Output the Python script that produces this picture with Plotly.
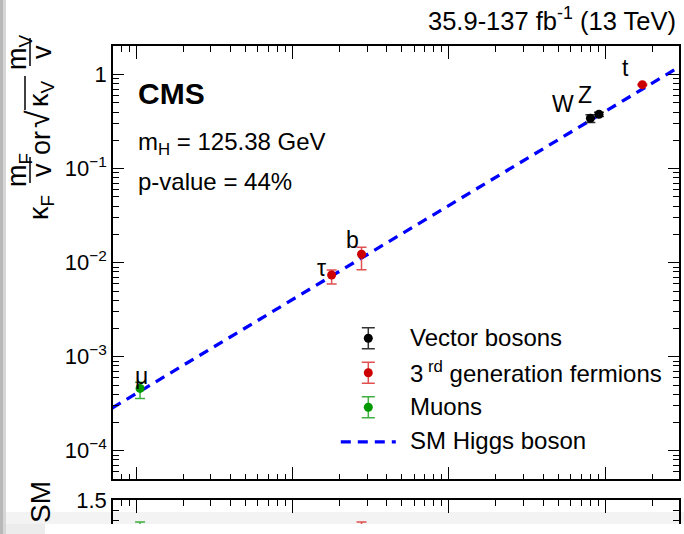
import plotly.graph_objects as go

# ---------------- data ----------------
vec_names = ["W", "Z"]
vec_mass = [80.38, 91.19]
vec_val = [0.344, 0.379]
vec_err_up = [0.030, 0.020]
vec_err_dn = [0.035, 0.020]

f3_names = ["τ", "b", "t"]
f3_mass = [1.777, 2.76, 172.76]
f3_val = [7.4e-3, 1.23e-2, 0.783]
f3_err_up = [0.94e-3, 2.3e-3, 0.015]
f3_err_dn = [1.47e-3, 3.9e-3, 0.015]

mu_names = ["μ"]
mu_mass = [0.1057]
mu_val = [4.6e-4]
mu_err_up = [0.74e-4]
mu_err_dn = [1.0e-4]

sm_mass = [0.07, 310.0]
sm_val = [2.84e-4, 1.26]

# ratio to SM (lower panel, mostly cut off)
vec_ratio = [1.05, 1.02]
vec_ratio_err = [0.10, 0.05]
f3_ratio = [1.03, 1.10, 1.11]
f3_ratio_err = [0.13, 0.18, 0.05]
mu_ratio = [1.07]
mu_ratio_err = [0.21]

y_tickvals = [1e-4, 1e-3, 1e-2, 1e-1, 1]
y_ticktext = ["10<sup>−4</sup>", "10<sup>−3</sup>", "10<sup>−2</sup>", "10<sup>−1</sup>", "1"]
x_major = [0.1, 1, 10, 100]

legend_labels = ["Vector bosons", "3<sup> rd</sup> generation fermions", "Muons", "SM Higgs boson"]

# ---------------- style ----------------
W, H = 684, 534
L, R, T, B = 113, 5, 46, 0
PW, PH = W - L - R, H - T - B
FONT = "Liberation Sans, Arial, sans-serif"
C_BLACK, C_RED, C_GREEN, C_BLUE = "#000000", "#cc0000", "#009a00", "#0000ff"
E_BLACK, E_RED, E_GREEN = "#333333", "#e05050", "#40b040"


def px(x):
    return (x - L) / PW


def py(y):
    return (H - B - y) / PH


x_minor = [k * 10.0 ** n for n in range(-2, 3) for k in range(2, 10)]
y_minor = [k * 10.0 ** n for n in range(-5, 1) for k in range(2, 10)]

fig = go.Figure()

# SM line
fig.add_trace(go.Scatter(x=sm_mass, y=sm_val, mode="lines",
                         line=dict(color=C_BLUE, width=3.3, dash="10px,7px"),
                         showlegend=False, hoverinfo="skip"))


def pts(x, y, up, dn, mc, ec, xa="x", ya="y"):
    return go.Scatter(x=x, y=y, mode="markers", xaxis=xa, yaxis=ya,
                      marker=dict(color=mc, size=9, line=dict(width=0)),
                      error_y=dict(type="data", symmetric=False, array=up, arrayminus=dn,
                                   color=ec, thickness=1.5, width=5),
                      showlegend=False, cliponaxis=True)


fig.add_trace(pts(vec_mass, vec_val, vec_err_up, vec_err_dn, C_BLACK, E_BLACK))
fig.add_trace(pts(f3_mass, f3_val, f3_err_up, f3_err_dn, C_RED, E_RED))
fig.add_trace(pts(mu_mass, mu_val, mu_err_up, mu_err_dn, C_GREEN, E_GREEN))

# ratio panel
fig.add_trace(pts(vec_mass, vec_ratio, vec_ratio_err, vec_ratio_err, C_BLACK, E_BLACK, "x2", "y2"))
fig.add_trace(pts(f3_mass, f3_ratio, f3_ratio_err, f3_ratio_err, C_RED, E_RED, "x2", "y2"))
fig.add_trace(pts(mu_mass, mu_ratio, mu_ratio_err, mu_ratio_err, C_GREEN, E_GREEN, "x2", "y2"))

# legend glyphs (drawn on a pixel-like helper axis that covers the whole plot area)
leg_x, leg_y0, leg_dy = 368.3, 338.3, 34.5
leg_colors = [(C_BLACK, E_BLACK), (C_RED, E_RED), (C_GREEN, E_GREEN)]
for i, (mc, ec) in enumerate(leg_colors):
    fig.add_trace(go.Scatter(x=[leg_x], y=[leg_y0 + i * leg_dy], mode="markers", xaxis="x3", yaxis="y3",
                             marker=dict(color=mc, size=9),
                             error_y=dict(type="constant", value=10.5, color=ec, thickness=1.5, width=6.5),
                             showlegend=False, hoverinfo="skip"))
fig.add_trace(go.Scatter(x=[leg_x - 27.5, leg_x + 27.5], y=[leg_y0 + 3 * leg_dy] * 2, mode="lines",
                         xaxis="x3", yaxis="y3", line=dict(color=C_BLUE, width=3.3, dash="10px,7px"),
                         showlegend=False, hoverinfo="skip"))

axis_common = dict(showline=True, linecolor="black", linewidth=1.5, ticks="inside",
                   tickcolor="black", tickwidth=1, showgrid=False, zeroline=False)

fig.update_layout(
    width=W, height=H, margin=dict(l=L, r=R, t=T, b=B, pad=0),
    paper_bgcolor="white", plot_bgcolor="rgba(0,0,0,0)",
    font=dict(family=FONT, color="black", size=22),
    showlegend=False,
    xaxis=dict(type="log", range=[-1.149, 2.472], domain=[0, 1], anchor="y",
               tickvals=x_major, ticklen=13, showticklabels=False, mirror="ticks",
               minor=dict(tickvals=x_minor, ticklen=6, ticks="inside", tickcolor="black", tickwidth=1),
               **axis_common),
    yaxis=dict(type="log", range=[-4.304, 0.305], domain=[py(479.3), 1], anchor="x",
               tickvals=y_tickvals, ticktext=y_ticktext, ticklen=11, mirror="ticks",
               tickfont=dict(size=22),
               minor=dict(tickvals=y_minor, ticklen=6, ticks="inside", tickcolor="black", tickwidth=1),
               **axis_common),
    xaxis2=dict(type="log", range=[-1.149, 2.472], domain=[0, 1], anchor="y2", side="top",
                tickvals=x_major, ticklen=13, showticklabels=False,
                minor=dict(tickvals=x_minor, ticklen=6, ticks="inside", tickcolor="black", tickwidth=1),
                **axis_common),
    yaxis2=dict(range=[1.16, 1.5], domain=[0, py(500)], anchor="x2",
                tickvals=[1.5], ticktext=["1.5"], ticklen=11, mirror="ticks",
                minor=dict(tickvals=[1.2, 1.3, 1.4], ticklen=6, ticks="inside", tickcolor="black", tickwidth=1),
                **axis_common),
    xaxis3=dict(range=[L, W - R], domain=[0, 1], anchor="y3", visible=False, fixedrange=True),
    yaxis3=dict(range=[H - B, T], domain=[0, 1], anchor="x3", visible=False, fixedrange=True),
)

ann = []


def text(x, y, s, size=24, xa="center", ya="middle", angle=0, bold=False):
    if bold:
        s = "<b>" + s + "</b>"
    ann.append(dict(x=px(x), y=py(y), xref="paper", yref="paper", text=s, showarrow=False,
                    xanchor=xa, yanchor=ya, textangle=angle,
                    font=dict(family=FONT, size=size, color="black")))


# header & labels
text(678, 19, "35.9-137 fb<sup>-1</sup> (13 TeV)", size=25.5, xa="right")
text(136, 93, "CMS", size=30, xa="left", bold=True)
text(136, 143, "m<sub>H</sub> = 125.38 GeV", size=24, xa="left")
text(136, 181, "p-value = 44%", size=24, xa="left")

# particle labels
for s, (x, y) in zip(["μ", "τ", "b", "W", "Z", "t"],
                     [(141, 376), (321, 268), (352, 240), (563, 104), (585, 95), (625, 68)]):
    text(x, y, s, size=23)

# legend texts
for i, s in enumerate(legend_labels):
    text(408, leg_y0 - 1 + i * leg_dy, s, size=24, xa="left")

# y-axis title (rotated pieces)
TS = 27
text(41, 208, "κ<sub>F</sub>", size=TS, angle=-90)
text(19, 170, "m<sub>F</sub>", size=TS, angle=-90)
text(42, 170, "v", size=TS, angle=-90)
text(41, 143, "or", size=TS, angle=-90)
text(38, 119, "√", size=32, angle=-90)
text(41, 94, "κ<sub>V</sub>", size=TS, angle=-90)
text(19, 52, "m<sub>V</sub>", size=TS, angle=-90)
text(42, 52, "v", size=TS, angle=-90)
text(40, 502, "SM", size=28, angle=-90)

shapes = [
    dict(type="line", xref="paper", yref="paper", x0=px(30), x1=px(30), y0=py(157), y1=py(183),
         line=dict(color="black", width=1.5)),
    dict(type="line", xref="paper", yref="paper", x0=px(30), x1=px(30), y0=py(38), y1=py(66),
         line=dict(color="black", width=1.5)),
    dict(type="line", xref="paper", yref="paper", x0=px(25), x1=px(25), y0=py(76), y1=py(110),
         line=dict(color="black", width=1.5)),
    # screenshot artefacts: left grey strip, bottom band
    dict(type="rect", xref="paper", yref="paper", x0=px(0), x1=px(3), y0=py(534), y1=py(0),
         fillcolor="#b8b8b8", line=dict(width=0), layer="above"),
    dict(type="rect", xref="paper", yref="paper", x0=px(3), x1=px(6), y0=py(534), y1=py(0),
         fillcolor="#d6d6d6", line=dict(width=0), layer="above"),
    dict(type="rect", xref="paper", yref="paper", x0=px(6), x1=px(684), y0=py(524), y1=py(512),
         fillcolor="#f3f3f3", line=dict(width=0), layer="below"),
    dict(type="rect", xref="paper", yref="paper", x0=px(6), x1=px(45), y0=py(534), y1=py(524),
         fillcolor="#ececec", line=dict(width=0), layer="above"),
    dict(type="rect", xref="paper", yref="paper", x0=px(45), x1=px(684), y0=py(534), y1=py(524),
         fillcolor="white", line=dict(width=0), layer="above"),
]

fig.update_layout(annotations=ann, shapes=shapes)
fig.write_html("out.html")
